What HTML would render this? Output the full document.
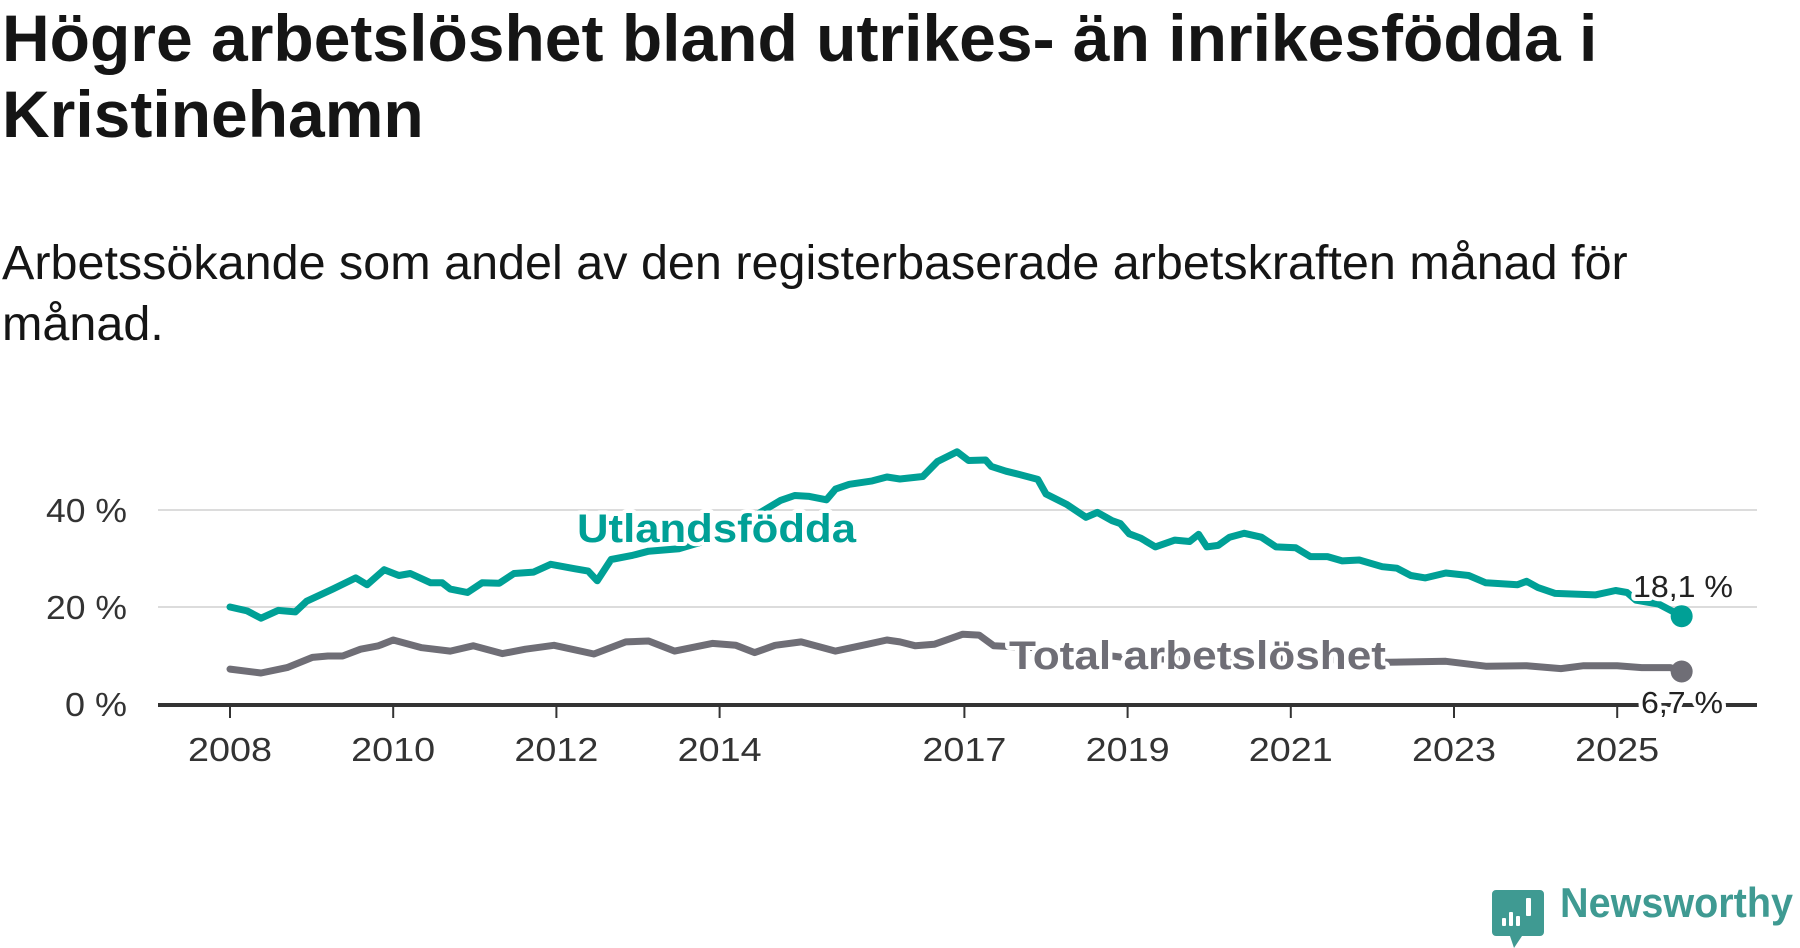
<!DOCTYPE html>
<html><head><meta charset="utf-8">
<style>
html,body{margin:0;padding:0;background:#fff;width:1800px;height:948px;overflow:hidden}
body{font-family:"Liberation Sans",sans-serif;position:relative}
#title{position:absolute;left:2px;top:0px;width:1780px;font-weight:bold;font-size:66px;line-height:76px;color:#151515;margin:0}
#subtitle{position:absolute;left:2px;top:233px;width:1700px;font-size:48.5px;line-height:61px;color:#151515;margin:0}
svg{position:absolute;left:0;top:0}
</style></head><body>
<h1 id="title">Högre arbetslöshet bland utrikes- än inrikesfödda i Kristinehamn</h1>
<p id="subtitle">Arbetssökande som andel av den registerbaserade arbetskraften månad för månad.</p>
<svg id="chart" width="1800" height="948"></svg>
<script>
const yTicks=[0,20,40];
const yTickLabels=["0 %","20 %","40 %"];
const xTicks=[2008,2010,2012,2014,2017,2019,2021,2023,2025];
const foreignYears=[2008.0,2008.21,2008.38,2008.59,2008.8,2008.94,2009.26,2009.54,2009.68,2009.89,2010.07,2010.21,2010.46,2010.6,2010.7,2010.91,2011.09,2011.3,2011.48,2011.72,2011.93,2012.22,2012.39,2012.5,2012.67,2012.92,2013.13,2013.5,2013.9,2014.3,2014.55,2014.75,2014.92,2015.1,2015.31,2015.42,2015.59,2015.87,2016.05,2016.21,2016.49,2016.67,2016.91,2017.05,2017.26,2017.33,2017.51,2017.68,2017.9,2018.0,2018.25,2018.49,2018.63,2018.81,2018.91,2019.02,2019.16,2019.34,2019.58,2019.76,2019.87,2019.97,2020.11,2020.25,2020.43,2020.64,2020.82,2021.06,2021.24,2021.45,2021.63,2021.84,2022.12,2022.3,2022.47,2022.65,2022.9,2023.18,2023.39,2023.78,2023.89,2024.03,2024.24,2024.73,2024.98,2025.12,2025.23,2025.51,2025.79];
const foreignValues=[20.0,19.2,17.7,19.3,19.0,21.2,23.7,26.0,24.6,27.7,26.5,26.9,25.0,25.0,23.7,23.0,25.0,24.9,26.9,27.2,28.8,27.9,27.4,25.4,29.8,30.6,31.5,32.0,34.0,37.5,40.0,42.0,43.0,42.8,42.1,44.3,45.3,46.0,46.8,46.4,46.9,50.0,52.0,50.2,50.3,49.0,48.0,47.3,46.3,43.3,41.2,38.5,39.5,37.8,37.2,35.1,34.2,32.4,33.8,33.5,35.0,32.4,32.7,34.4,35.2,34.4,32.4,32.2,30.4,30.4,29.5,29.7,28.3,28.0,26.5,26.0,27.0,26.5,25.0,24.6,25.3,24.0,22.8,22.5,23.4,23.0,21.4,20.6,18.1];
const totalYears=[2008.0,2008.38,2008.7,2009.01,2009.2,2009.38,2009.6,2009.82,2010.0,2010.35,2010.7,2010.98,2011.34,2011.62,2011.97,2012.46,2012.85,2013.13,2013.45,2013.91,2014.2,2014.43,2014.68,2015.0,2015.42,2015.81,2016.05,2016.21,2016.4,2016.63,2016.98,2017.18,2017.36,2018.0,2019.0,2020.0,2021.0,2022.19,2022.9,2023.39,2023.89,2024.31,2024.59,2025.0,2025.3,2025.65,2025.79];
const totalValues=[7.2,6.4,7.5,9.6,9.9,9.9,11.3,12.0,13.2,11.6,10.9,12.0,10.4,11.3,12.1,10.3,12.8,13.0,10.9,12.5,12.1,10.6,12.1,12.8,10.9,12.3,13.2,12.8,12.0,12.3,14.4,14.2,12.0,11.5,9.5,9.0,9.5,8.6,8.8,7.8,7.9,7.3,7.9,7.9,7.5,7.5,6.7];

const NS='http://www.w3.org/2000/svg';
const svg=document.getElementById('chart');
const xs=y=>230+(y-2008)*81.6;
const ys=v=>704-v*4.85;
function mk(tag,attrs,parent){const e=document.createElementNS(NS,tag);for(const k in attrs)e.setAttribute(k,attrs[k]);(parent||svg).appendChild(e);return e;}
const TEAL='#00a096',GRAY='#6f6e76';
yTicks.forEach((t,i)=>{
  if(t>0){const g=mk('line',{x1:158,x2:1757,y1:ys(t),y2:ys(t),stroke:'#dcdcdc','stroke-width':2});
  
  }
  const w=yTickLabels[i].length===3?62:81;
  const l=mk('text',{x:127-w,y:ys(t)+12,'font-size':33,fill:'#333',textLength:w,lengthAdjust:'spacingAndGlyphs'});l.textContent=yTickLabels[i];
  
  
});
const ax=mk('line',{x1:158,x2:1757,y1:705,y2:705,stroke:'#333','stroke-width':4});


xTicks.forEach(t=>{
  const tk=mk('line',{x1:xs(t),x2:xs(t),y1:705,y2:718,stroke:'#333','stroke-width':2});
  
  
  const l=mk('text',{x:xs(t)-42,y:761,'font-size':33,fill:'#333',textLength:84,lengthAdjust:'spacingAndGlyphs'});l.textContent=t;
  
  
});
function line(years,vals,color,name){
  const d=years.map((y,i)=>(i?'L':'M')+xs(y).toFixed(1)+','+ys(vals[i]).toFixed(1)).join(' ');
  const p=mk('path',{d:d,fill:'none',stroke:color,'stroke-width':7,'stroke-linejoin':'round','stroke-linecap':'round'});
  
  
  const n=years.length-1;
  const c=mk('circle',{cx:xs(years[n]),cy:ys(vals[n]),r:11,fill:color});
  
  
}
line(totalYears,totalValues,GRAY,'total');
line(foreignYears,foreignValues,TEAL,'foreign-born');
function label(txt,x,y,size,color,weight,name,w){
  const t=mk('text',{x:x,y:y,'font-size':size,fill:color,'font-weight':weight,stroke:'#fff','stroke-width':8,'paint-order':'stroke','stroke-linejoin':'round',textLength:w,lengthAdjust:'spacingAndGlyphs'});
  t.textContent=txt;
  
  
}
label('Utlandsfödda',577,542,40,TEAL,'bold','series-label-foreign-born',279);
label('Total arbetslöshet',1009,669,40,GRAY,'bold','series-label-total',377);
const nF=foreignValues.length-1,nT=totalValues.length-1;
label(foreignValues[nF].toFixed(1).replace('.',',')+' %',1633,597,31,'#222','normal','end-value-foreign-born',100);
label(totalValues[nT].toFixed(1).replace('.',',')+' %',1641,713,31,'#222','normal','end-value-total',82);
const g=mk('g',{});


mk('path',{d:'M1496,890 h44 a4,4 0 0 1 4,4 v38 a4,4 0 0 1 -4,4 h-18 l-8,12 l-4,-12 h-14 a4,4 0 0 1 -4,-4 v-38 a4,4 0 0 1 4,-4z',fill:'#3f9a92'},g);
[[1502,918,4,8],[1509,912,4,14],[1516,916,4,10],[1526,898,5,18]].forEach(b=>mk('rect',{x:b[0],y:b[1],width:b[2],height:b[3],fill:'#fff',rx:1},g));
const lt=mk('text',{x:1560,y:917,'font-size':42,fill:'#3f9a92','font-weight':'bold',textLength:233,lengthAdjust:'spacingAndGlyphs'},g);lt.textContent='Newsworthy';
</script>
</body></html>
